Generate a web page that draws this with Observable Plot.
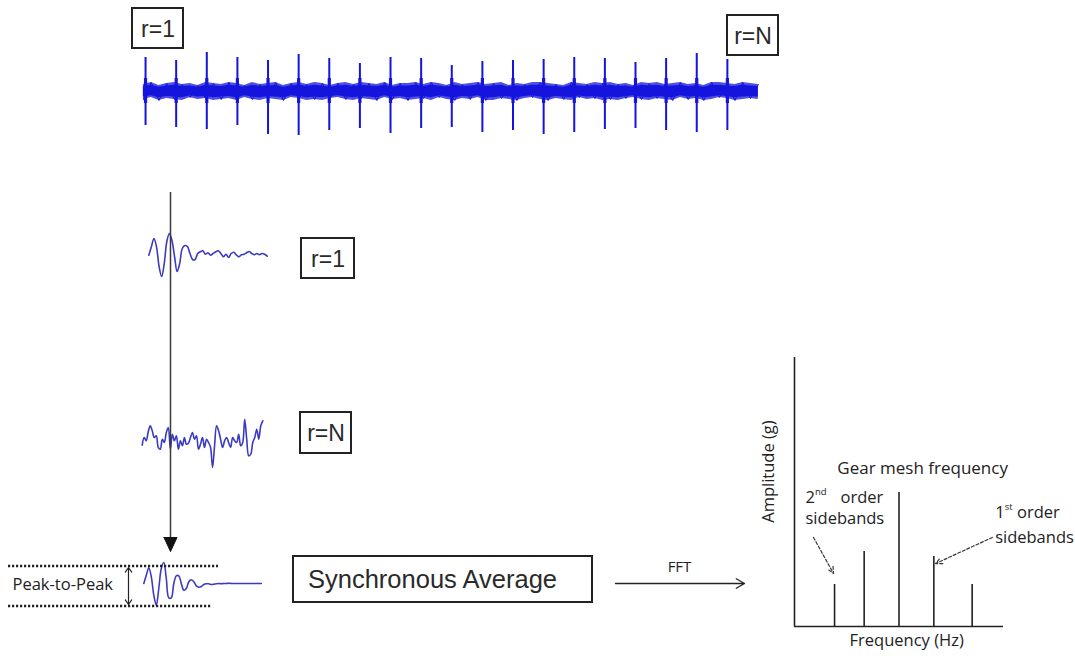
<!DOCTYPE html>
<html><head><meta charset="utf-8">
<script src="https://cdn.jsdelivr.net/npm/d3@7"></script>
<script src="https://cdn.jsdelivr.net/npm/@observablehq/plot@0.6"></script>
<style>
html,body{margin:0;padding:0;background:#fff;}
#stage{position:relative;width:1075px;height:658px;overflow:hidden;background:#fff;}
#stage svg{position:absolute;}
</style></head><body><div id="stage"></div>
<script>
// ---------- DATA ----------
// Raw vibration signal: one impulse per revolution (r = 1 ... N)
const revolution = [0,1,2,3,4,5,6,7,8,9,10,11,12,13,14,15,16,17,18,19];
const spikeUp   = [34,31,39,34,31,37,33,28,34,33,26,30,31,32,34,33,29,33,38,32];
const spikeDown = [-34,-36,-38,-34,-43,-44,-39,-37,-42,-37,-36,-41,-39,-43,-41,-38,-37,-39,-41,-39];
const signalSpan = [-0.07, 20.01];        // time extent of the raw record (revolutions)
const noiseHi = [7,9,6,8,9,7,8,6,9,8, 7,9,8,6,9,7,8,9,6,8, 9,7,9,8,6,8,9,7,9,8, 7,9,6,8,8,9,7,9,8,6,
                 9,7,8,9,7,8,9,6,8,7, 9,9,8,7,6,9,8,7,9,8, 9,7,8,6,9,8,9,7,8,9, 7,8,6,9,9,8,7,9,8,7];
const noiseLo = [-8,-6,-9,-7,-8,-9,-6,-8,-7,-9, -8,-7,-9,-6,-8,-9,-7,-8,-9,-6, -7,-9,-8,-9,-7,-6,-8,-9,-7,-8,
                 -9,-6,-8,-7,-9,-8,-7,-9,-6,-8, -9,-7,-8,-6,-9,-9,-7,-8,-9,-7, -6,-8,-9,-7,-8,-9,-6,-8,-7,-9,
                 -8,-9,-7,-6,-8,-9,-7,-8,-9,-6, -8,-7,-9,-8,-6,-7,-9,-8,-7,-8];

// Single-revolution segments
const waveR1 = [-1.7,6.7,15,6.7,-13,-23,-10,12,20,13,-3,-18,-10,5,8,7,0,-6,-6,0,1.7,2.7,-0.7,0.7,-1.7,0,1.7,2.7,0,-3.3,
                -0.7,-4,0,1.3,-1.3,-3.3,-1.3,-0.7,0.7,2,0,-1.3,0,-1.3,0,-0.7,-2.7];
const waveRN = [-2.7,5,1.7,10.7,16.7,11.7,5,6.7,-5,-6.7,3.3,0,10,15,-6.7,8.3,1.7,6.7,-6.7,1.7,-3.3,5,-1.7,-0.7,5,10,3.3,6.7,-6.7,-1.7,
                5,-5,3.3,0,-5,-25,-3.3,16.7,11.7,3.3,-5,1.7,5,0,-5,5,1.7,0,8.3,-3.3,0,23.3,3.3,-13.3,-11.7,0,5,13.3,3.3,16.7,21.7];
const waveAvg = [0,8.3,15.7,6.7,-11.7,-21.7,-5,15,21,5,-14.3,-14.3,0,7.7,7.7,0,-6.7,-5,1.7,3.7,1.7,-2.3,-3.7,-3,-1,-0.3,-0.3,-1,-0.7,-0.3,
                 0,-0.3,0,0,0.3,0,0,0,0,0,0,0,0,0,0,0,0,0];

// Spectrum of the synchronous average
const specFreq = [1.15, 2, 3, 4, 5.1];
const specAmp  = [0.156, 0.279, 0.498, 0.26, 0.156];

// Labels
const boxLabels = ["r=1", "r=N", "r=1", "r=N", "Synchronous Average"];

// ---------- LAYOUT ----------
const W = 1075, H = 658;
const blue = "#1414dc", waveBlue = "#3b3bc2", ink = "#222";
const sans = "Liberation Sans, Arial, sans-serif";
const cal = "Open Sans, Noto Sans, sans-serif";
const stage = document.getElementById("stage");
function place(el, left, top) { el.style.left = left + "px"; el.style.top = top + "px"; stage.appendChild(el); }
const clear = {background: "transparent", overflow: "visible"};

// Raw signal
const band = noiseHi.map((h, i) => ({
  t: signalSpan[0] + i * (signalSpan[1] - signalSpan[0]) / (noiseHi.length - 1), hi: h, lo: noiseLo[i]
}));
const zigzag = band.map((d, i) => ({t: d.t, v: i % 2 ? d.hi : d.lo}));
const spikes = revolution.map((r, i) => ({t: r, hi: spikeUp[i], lo: spikeDown[i]}));
place(Plot.plot({
  width: 625, height: 100, margin: 0, style: clear,
  x: {domain: [-0.23, 20.18], axis: null},
  y: {domain: [-49, 51], axis: null},
  marks: [
    Plot.areaY(band, {x: "t", y1: "lo", y2: "hi", fill: blue, fillOpacity: 0.75}),
    Plot.areaY(band, {x: "t", y1: d => d.lo * 0.7, y2: d => d.hi * 0.7, fill: blue}),
    Plot.line(zigzag, {x: "t", y: "v", stroke: blue, strokeWidth: 1}),
    Plot.ruleX(spikes, {x: "t", y1: "lo", y2: "hi", stroke: blue, strokeWidth: 2}),
    Plot.ruleX(spikes, {x: "t", y1: -12, y2: 13, stroke: blue, strokeWidth: 3.2})
  ]
}), 138, 40);

function wavePlot(values, left, top, width, ml, mr) {
  const pts = values.map((v, i) => ({i, v}));
  place(Plot.plot({
    width, height: 60, marginTop: 0, marginBottom: 0, marginLeft: ml, marginRight: mr, style: clear,
    x: {domain: [0, values.length - 1], axis: null},
    y: {domain: [-30, 30], axis: null},
    marks: [Plot.line(pts, {x: "i", y: "v", stroke: waveBlue, strokeWidth: 1.6, curve: "catmull-rom"})]
  }), left, top);
}
wavePlot(waveR1, 140, 223, 135, 8.3, 8.3);
wavePlot(waveRN, 135, 412, 135, 6.7, 7.7);
wavePlot(waveAvg, 135, 553, 135, 8.3, 9.2);

// Spectrum
const spec = specFreq.map((f, i) => ({f, a: specAmp[i]}));
const fs = 16.5;
place(Plot.plot({
  width: 335, height: 318, marginLeft: 54, marginRight: 72, marginTop: 17, marginBottom: 32, style: clear,
  x: {domain: [0, 6], axis: null},
  y: {domain: [0, 1], axis: null},
  marks: [
    Plot.ruleX([0], {y1: 0, y2: 1, stroke: ink, strokeWidth: 1.6}),
    Plot.ruleY([0], {x1: 0, x2: 6, stroke: ink, strokeWidth: 1.6}),
    Plot.ruleX(spec, {x: "f", y1: 0, y2: "a", stroke: ink, strokeWidth: 1.6}),
    Plot.text(["Frequency (Hz)"], {x: 3.22, y: -0.052, fontFamily: cal, fontSize: fs, fill: ink}),
    Plot.text(["Amplitude (g)"], {x: -0.75, y: 0.576, rotate: -90, fontFamily: cal, fontSize: fs, fill: ink}),
    Plot.text(["Gear mesh frequency"], {x: 1.23, y: 0.587, textAnchor: "start", fontFamily: cal, fontSize: 17, fill: ink}),
    Plot.text(["2"], {x: 0.316, y: 0.48, textAnchor: "start", fontFamily: cal, fontSize: fs, fill: ink}),
    Plot.text(["nd"], {x: 0.316, y: 0.48, dx: 9.5, dy: -5, textAnchor: "start", fontFamily: cal, fontSize: 9.5, fill: ink}),
    Plot.text(["order"], {x: 1.32, y: 0.48, textAnchor: "start", fontFamily: cal, fontSize: fs, fill: ink}),
    Plot.text(["sidebands"], {x: 0.316, y: 0.40, textAnchor: "start", fontFamily: cal, fontSize: fs, fill: ink}),
    Plot.text(["1"], {x: 5.76, y: 0.424, textAnchor: "start", fontFamily: cal, fontSize: fs, fill: ink}),
    Plot.text(["st"], {x: 5.76, y: 0.424, dx: 9.5, dy: -5, textAnchor: "start", fontFamily: cal, fontSize: 9.5, fill: ink}),
    Plot.text(["order"], {x: 6.39, y: 0.424, textAnchor: "start", fontFamily: cal, fontSize: fs, fill: ink}),
    Plot.text(["sidebands"], {x: 5.76, y: 0.331, textAnchor: "start", fontFamily: cal, fontSize: fs, fill: ink}),
    Plot.arrow([{x1: 0.545, y1: 0.331, x2: 1.12, y2: 0.197}, {x1: 5.68, y1: 0.331, x2: 4.05, y2: 0.234}],
      {x1: "x1", y1: "y1", x2: "x2", y2: "y2", stroke: "#333", strokeWidth: 1.2, strokeDasharray: "3,2", headLength: 9, headAngle: 50})
  ]
}), 740, 340);

// Diagram annotations (pixel layout)
const boxes = [
  {x1: 132, x2: 183, y1: 8, y2: 48, size: 23},
  {x1: 727, x2: 778, y1: 15, y2: 55, size: 23},
  {x1: 301, x2: 354, y1: 238, y2: 278, size: 23},
  {x1: 300, x2: 351, y1: 412, y2: 453, size: 23},
  {x1: 293, x2: 592, y1: 556, y2: 602, size: 25.5}
].map((b, i) => ({...b, label: boxLabels[i]}));
const textX = [157.5, 752.5, 327.5, 325.5, 432];
const textY = [29, 36, 259, 433.5, 579];
const arrowHead = [{x: 163.5, y: 537}, {x: 176.5, y: 537}, {x: 170, y: 551}, {x: 163.5, y: 537}];
place(Plot.plot({
  width: W, height: H, margin: 0, style: clear,
  x: {domain: [0, W], axis: null},
  y: {domain: [0, H], reverse: true, axis: null},
  marks: [
    Plot.rect(boxes, {x1: "x1", x2: "x2", y1: "y1", y2: "y2", fill: "none", stroke: ink, strokeWidth: 2}),
    Plot.text(boxes, {x: (d, i) => textX[i], y: (d, i) => textY[i], text: "label", fontSize: d => d.size, fontFamily: sans, fill: "#2a2a2a"}),
    Plot.ruleX([170], {y1: 192, y2: 540, stroke: "#3a3a3a", strokeWidth: 1.5}),
    Plot.line(arrowHead, {x: "x", y: "y", fill: "#111", stroke: "#111", strokeWidth: 1}),
    Plot.ruleY([{y: 565.5, x1: 8, x2: 218}, {y: 605.5, x1: 8, x2: 212}],
      {y: "y", x1: "x1", x2: "x2", stroke: ink, strokeWidth: 2.5, strokeDasharray: "2.2,1.8"}),
    Plot.arrow([{x1: 128, y1: 585, x2: 128, y2: 567}, {x1: 128, y1: 585, x2: 128, y2: 604}],
      {x1: "x1", y1: "y1", x2: "x2", y2: "y2", stroke: ink, strokeWidth: 1.2, headLength: 7, headAngle: 70}),
    Plot.text(["Peak-to-Peak"], {x: 12, y: 584, textAnchor: "start", fontFamily: cal, fontSize: 16.5, fill: ink}),
    Plot.arrow([{x1: 615, y1: 583, x2: 744, y2: 583}],
      {x1: "x1", y1: "y1", x2: "x2", y2: "y2", stroke: ink, strokeWidth: 1.3, headLength: 11, headAngle: 60}),
    Plot.text(["FFT"], {x: 679, y: 567, fontFamily: cal, fontSize: 15, fill: ink})
  ]
}), 0, 0);
</script></body></html>
